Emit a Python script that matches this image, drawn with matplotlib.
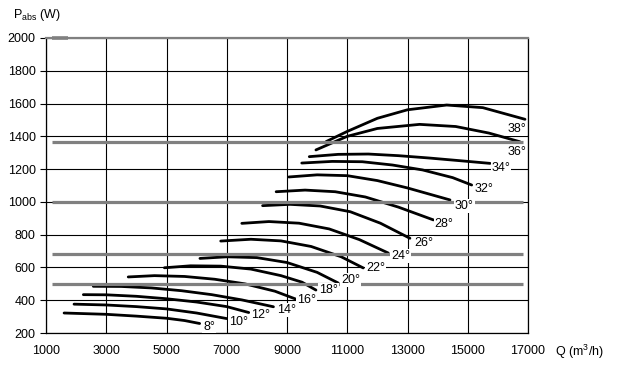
import matplotlib
matplotlib.use("Agg")
import matplotlib.pyplot as plt

plt.rcParams['font.family'] = ['Liberation Sans', 'DejaVu Sans']
plt.rcParams['mathtext.default'] = 'regular'

# ---------------- data ----------------
x_ticks = [1000, 3000, 5000, 7000, 9000, 11000, 13000, 15000, 17000]
y_ticks = [200, 400, 600, 800, 1000, 1200, 1400, 1600, 1800, 2000]

temps = ["8°", "10°", "12°", "14°", "16°", "18°", "20°", "22°",
         "24°", "26°", "28°", "30°", "32°", "34°", "36°", "38°"]

# flow Q (m3/h) / power P (W) for each angle curve
q08 = [1600, 3000, 4000, 5000, 5600, 6100]
p08 = [322, 314, 303, 290, 276, 258]
q10 = [1930, 3000, 4000, 5000, 6000, 7000]
p10 = [376, 371, 361, 347, 322, 288]
q12 = [2240, 3000, 4000, 5000, 6000, 7000, 7730]
p12 = [434, 433, 424, 409, 389, 361, 325]
q14 = [2570, 3500, 4500, 5500, 6500, 7500, 8550]
p14 = [485, 484, 475, 458, 434, 402, 360]
q16 = [3730, 4600, 5600, 6600, 7600, 8600, 9320]
p16 = [542, 550, 545, 528, 500, 455, 405]
q18 = [4930, 5800, 6800, 7800, 8800, 9500, 9960]
p18 = [598, 610, 608, 590, 550, 510, 462]
q20 = [6110, 7000, 8000, 9000, 10000, 10700]
p20 = [655, 665, 660, 630, 570, 505]
q22 = [6800, 7800, 8800, 9800, 10800, 11530]
p22 = [761, 772, 762, 728, 665, 597]
q24 = [7500, 8400, 9400, 10400, 11400, 12360]
p24 = [869, 880, 870, 835, 770, 688]
q26 = [8190, 9100, 10100, 11100, 12100, 13080]
p26 = [977, 985, 975, 940, 870, 778]
q28 = [8640, 9600, 10600, 11600, 12700, 13860]
p28 = [1062, 1072, 1062, 1030, 968, 890]
q30 = [9060, 10000, 11000, 12000, 13000, 14410]
p30 = [1152, 1165, 1160, 1130, 1085, 1012]
q32 = [9490, 10500, 11500, 12500, 13500, 14500, 15130]
p32 = [1237, 1247, 1245, 1225, 1195, 1148, 1103]
q34 = [9740, 10700, 11700, 12700, 13700, 14700, 15740]
p34 = [1276, 1290, 1292, 1282, 1268, 1252, 1235]
q36 = [9960, 11000, 12000, 13400, 14600, 15700, 16730]
p36 = [1317, 1400, 1448, 1473, 1460, 1420, 1367]
q38 = [10300, 11000, 12000, 13000, 14300, 15500, 16900]
p38 = [1368, 1430, 1510, 1562, 1591, 1575, 1504]

curves_q = [q08, q10, q12, q14, q16, q18, q20, q22, q24, q26, q28, q30, q32, q34, q36, q38]
curves_p = [p08, p10, p12, p14, p16, p18, p20, p22, p24, p26, p28, p30, p32, p34, p36, p38]

# where each angle label sits
label_q = [6411, 7384, 8131, 8990, 9640, 10372, 11120, 11950,
           12762, 13527, 14218, 14882, 15546, 16104, 16625, 16625]
label_p = [239, 269, 310, 342, 401, 462, 523, 595,
           671, 750, 865, 974, 1078, 1209, 1306, 1444]

# grey reference bands
band_p = [500, 680, 1000, 1368]
band_q0 = 1190
band_q1 = 16830

# ---------------- figure ----------------
fig = plt.figure(figsize=(6.18, 3.68), dpi=100)
ax = fig.add_axes([46 / 618, 1 - 333 / 368, 482 / 618, 295 / 368])

ax.set_xlim(1000, 17000)
ax.set_ylim(200, 2000)
ax.set_xticks(x_ticks)
ax.set_yticks(y_ticks)
ax.tick_params(axis='both', labelsize=9, colors='black', length=4, width=0.8)
ax.tick_params(axis='x', length=0, pad=9)
ax.grid(True, color='black', linewidth=0.8, zorder=0)
ax.set_axisbelow(True)

for s in ['left', 'bottom', 'right']:
    ax.spines[s].set_color('black')
    ax.spines[s].set_linewidth(0.9)
ax.spines['top'].set_color('#808080')
ax.spines['top'].set_linewidth(1.6)

for q, p in zip(curves_q, curves_p):
    ax.plot(q, p, color='black', linewidth=2.0, solid_capstyle='round',
            solid_joinstyle='round', zorder=3)

for bp in band_p:
    ax.hlines(bp, band_q0, band_q1, color='#808080', linewidth=2.3, zorder=4)
# short thick stub on the top line
ax.hlines(2000, 1190, 1740, color='#808080', linewidth=2.6, zorder=4, clip_on=False)

for t, lq, lp in zip(temps, label_q, label_p):
    ax.text(lq, lp, t, fontsize=9, ha='center', va='center', zorder=5,
            bbox=dict(facecolor='white', edgecolor='none', pad=0.6))

fig.text(13 / 618, 1 - 18 / 368, r'P$_{abs}$ (W)', fontsize=9, va='baseline')
fig.text(555 / 618, 1 - 356 / 368, 'Q (m$^3$/h)', fontsize=9, va='baseline')

fig.savefig('out.png', dpi=100)
